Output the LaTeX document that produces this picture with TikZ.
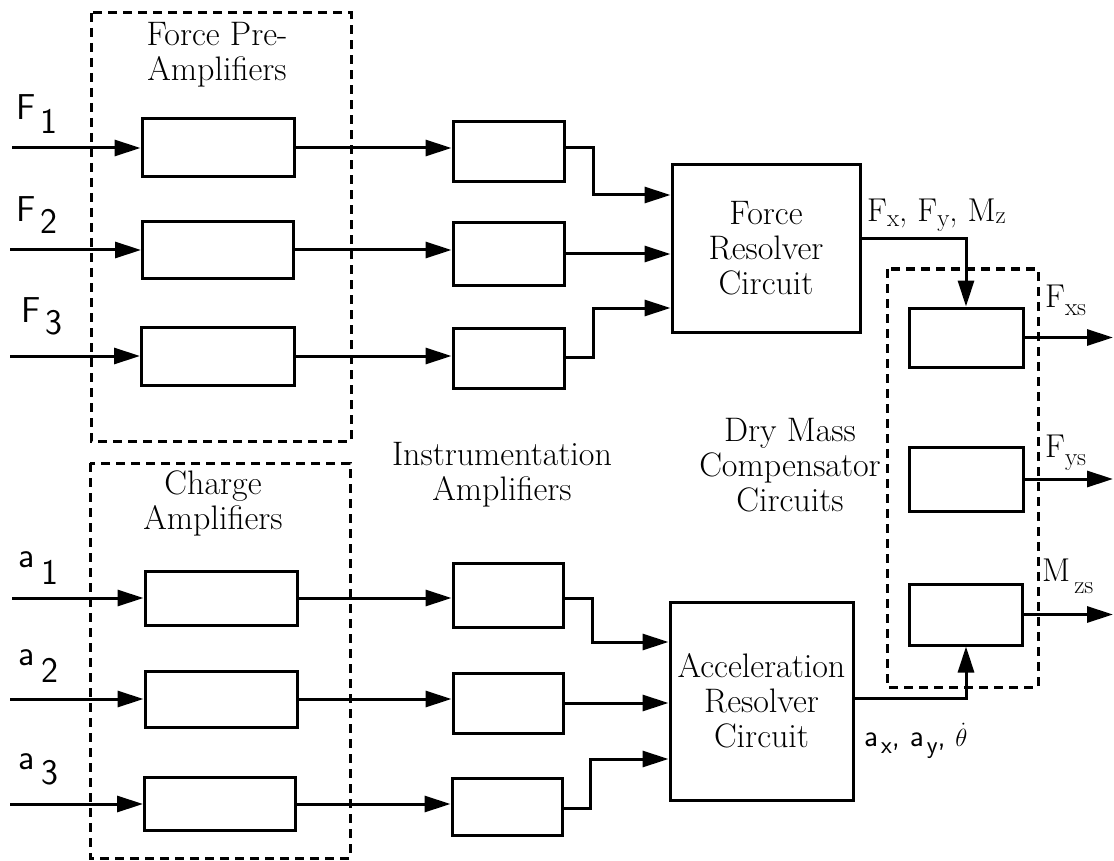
\documentclass[tikz,border=0pt]{standalone}
\usepackage{fontspec}
\usetikzlibrary{arrows.meta}
\begin{document}
\begin{tikzpicture}[x=1pt,y=-1pt,
  blk/.style={draw, line width=3pt, inner sep=0pt, align=center, font=\fontsize{34}{35}\selectfont},
  con/.style={line width=3pt, -{Triangle[length=26pt,width=16pt]}},
  dashbox/.style={line width=3pt, dash pattern=on 9pt off 6pt},
  lbl/.style={inner sep=0pt, align=center, font=\fontsize{34}{35}\selectfont},
  inlbl/.style={inner sep=0pt, anchor=base west, font=\sffamily\fontsize{36}{36}\selectfont},
  outlbl/.style={inner sep=0pt, anchor=base west, font=\fontsize{33}{33}\selectfont}]
\useasboundingbox (0,0) rectangle (1114,861);

% dashed group boxes
\draw[dashbox] (91,13) rectangle (351,441);
\draw[dashbox] (90,463) rectangle (350,858);
\draw[dashbox] (887,269) rectangle (1038,687);

% group labels
\node[lbl] (tpre) at (217,55) {Force Pre-\\Amplifiers};
\node[lbl] (tchg) at (213,503) {Charge\\Amplifiers};
\node[lbl] (tins) at (502,475) {Instrumentation\\Amplifiers};
\node[lbl] (tdry) at (790,465) {Dry Mass\\Compensator\\Circuits};

% force pre-amplifiers
\node[blk, minimum width=152pt, minimum height=58pt] (p1) at (218,148) {};
\node[blk, minimum width=151pt, minimum height=56pt] (p2) at (218,250) {};
\node[blk, minimum width=153pt, minimum height=58pt] (p3) at (218,356) {};
% charge amplifiers
\node[blk, minimum width=152pt, minimum height=54pt] (c1) at (221,598) {};
\node[blk, minimum width=152pt, minimum height=56pt] (c2) at (221,699) {};
\node[blk, minimum width=151pt, minimum height=53pt] (c3) at (220,804) {};
% instrumentation amplifiers
\node[blk, minimum width=111pt, minimum height=60pt] (i1) at (508.5,152) {};
\node[blk, minimum width=111pt, minimum height=62pt] (i2) at (508.5,254) {};
\node[blk, minimum width=111pt, minimum height=60pt] (i3) at (508.5,358) {};
\node[blk, minimum width=110pt, minimum height=64pt] (j1) at (508,595) {};
\node[blk, minimum width=110pt, minimum height=60pt] (j2) at (508,703) {};
\node[blk, minimum width=110pt, minimum height=57pt] (j3) at (507,806.5) {};
% resolvers
\node[blk, minimum width=188pt, minimum height=167pt] (fr) at (766,248.5) {Force\\Resolver\\Circuit};
\node[blk, minimum width=183pt, minimum height=198pt] (ar) at (761.5,701) {Acceleration\\Resolver\\Circuit};
% dry mass compensators
\node[blk, minimum width=114pt, minimum height=59pt] (d1) at (966,337.5) {};
\node[blk, minimum width=114pt, minimum height=64pt] (d2) at (966,479) {};
\node[blk, minimum width=113pt, minimum height=61pt] (d3) at (966,614.5) {};

% inputs
\coordinate (inF1) at (12,148);
\coordinate (inF2) at (10,250);
\coordinate (inF3) at (10,356);
\coordinate (ina1) at (12,598);
\coordinate (ina2) at (10,699);
\coordinate (ina3) at (10,804);
\draw[con] (inF1) -- (p1.west);
\draw[con] (inF2) -- (p2.west);
\draw[con] (inF3) -- (p3.west);
\draw[con] (ina1) -- (c1.west);
\draw[con] (ina2) -- (c2.west);
\draw[con] (ina3) -- (c3.west);

\node[inlbl] (lF1) at (16,120) {F\hspace{5pt}\raisebox{-14pt}{1}};
\node[inlbl] (lF2) at (16,222) {F\hspace{5pt}\raisebox{-12pt}{2}};
\node[inlbl] (lF3) at (21,322) {F\hspace{5pt}\raisebox{-13pt}{3}};
\node[inlbl] (la1) at (18,567) {a\hspace{7pt}\raisebox{-17pt}{1}};
\node[inlbl] (la2) at (18,665) {a\hspace{7pt}\raisebox{-17pt}{2}};
\node[inlbl] (la3) at (18,769) {a\hspace{7pt}\raisebox{-15pt}{3}};

% pre-amp to instrumentation amps
\draw[con] (p1.east) -- (p1.east -| i1.west);
\draw[con] (p2.east) -- (p2.east -| i2.west);
\draw[con] (p3.east) -- (p3.east -| i3.west);
\draw[con] (c1.east) -- (c1.east -| j1.west);
\draw[con] (c2.east) -- (c2.east -| j2.west);
\draw[con] (c3.east) -- (c3.east -| j3.west);

% instrumentation amps to force resolver
\coordinate (fin1) at ([yshift=53.5pt]fr.west);
\coordinate (fin3) at ([yshift=-59.5pt]fr.west);
\draw[con] ([yshift=4pt]i1.east) -- ++(28,0) |- (fin1);
\draw[con] (i2.east) -- (i2.east -| fr.west);
\draw[con] ([yshift=1pt]i3.east) -- ++(28,0) |- (fin3);

% instrumentation amps to acceleration resolver
\coordinate (ain1) at ([yshift=59pt]ar.west);
\coordinate (ain3) at ([yshift=-58pt]ar.west);
\draw[con] ([yshift=-3pt]j1.east) -- ++(28,0) |- (ain1);
\draw[con] (j2.east) -- (j2.east -| ar.west);
\draw[con] ([yshift=-1.5pt]j3.east) -- ++(27,0) |- (ain3);

% resolver outputs
\draw[con] ([yshift=9.5pt]fr.east) -| (d1.north);
\draw[con] ([yshift=3pt]ar.east) -| (d3.south);
\node[outlbl] (lfr) at (867,222) {F\raisebox{-5pt}{\fontsize{25}{25}\selectfont x}, F\raisebox{-5pt}{\fontsize{25}{25}\selectfont y}, M\raisebox{-2pt}{\fontsize{25}{25}\selectfont z}};
\node[outlbl, font=\sffamily\fontsize{31}{31}\selectfont] (lar) at (864,746) {a\hspace{3pt}\raisebox{-7pt}{\fontsize{25}{25}\selectfont x}, a\hspace{3pt}\raisebox{-7pt}{\fontsize{25}{25}\selectfont y}, $\dot{\theta}$};

% outputs
\coordinate (oF) at (1113,337.5);
\coordinate (oY) at (1113,479);
\coordinate (oM) at (1113,614.5);
\draw[con] (d1.east) -- (oF);
\draw[con] (d2.east) -- (oY);
\draw[con] (d3.east) -- (oM);
\node[outlbl] (lxs) at (1045,307) {F\raisebox{-8pt}{\fontsize{25}{25}\selectfont xs}};
\node[outlbl] (lys) at (1045,457) {F\raisebox{-8pt}{\fontsize{25}{25}\selectfont ys}};
\node[outlbl] (lzs) at (1042,581) {M\hspace{4pt}\raisebox{-12pt}{\fontsize{25}{25}\selectfont zs}};
\end{tikzpicture}
\end{document}
